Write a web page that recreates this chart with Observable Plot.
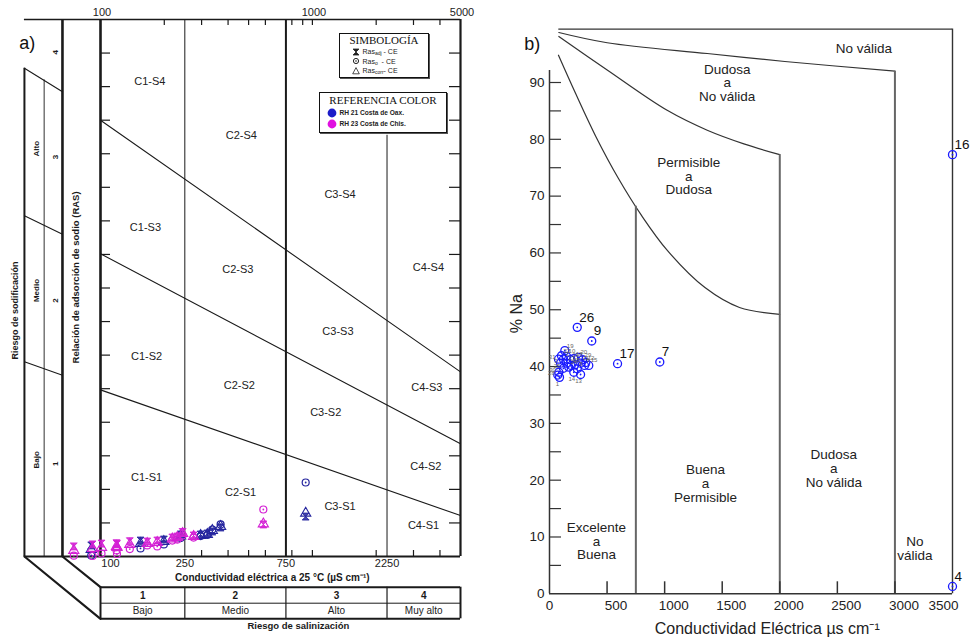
<!DOCTYPE html>
<html lang="es">
<head>
<meta charset="utf-8">
<title>Diagramas de Richards y Wilcox</title>
<script src="https://cdn.jsdelivr.net/npm/d3@7"></script>
<script src="https://cdn.jsdelivr.net/npm/@observablehq/plot@0.6"></script>
<style>
  html, body { margin: 0; padding: 0; background: #fff; }
  #wrap { position: relative; width: 972px; height: 638px; overflow: hidden; background: #fff;
          font-family: "Liberation Sans", Arial, sans-serif; }
  #panelA, #panelB { position: absolute; top: 0; }
  #panelA { left: 0; }
  #panelB { left: 490px; }
  .box { position: absolute; box-sizing: border-box; background: #fff; border: 1.5px solid #111;
         box-shadow: 1px 1px 0 #555; }
  .box .ttl { font-family: "Liberation Serif", "Times New Roman", serif; font-size: 11px; line-height: 12px;
              text-align: center; color: #111; }
  .box .row { display: flex; align-items: center; color: #222; white-space: nowrap; }
  #symbolBox .row { font-size: 7px; height: 9.5px; padding-left: 12px; }
  #symbolBox .row svg { margin-right: 2.5px; }
  #colorBox .row { font-size: 6.6px; font-weight: 600; height: 10.7px; padding-left: 6.5px; }
  #colorBox .row svg { margin-right: 3px; }
  .box .sb { font-size: 5px; position: relative; top: 1.5px; }
</style>
</head>
<body>
<div id="wrap">
  <div id="panelA"></div>
  <div id="panelB"></div>
  <div class="box" id="symbolBox" style="left:339px; top:33px; width:90px; height:45px;">
    <div class="ttl">SIMBOLOGÍA</div>
    <div class="row" style="margin-top:1px"><svg width="8" height="8" viewBox="-4 -4 8 8"><path d="M-3,-3L3,-3L-3,3L3,3Z" fill="#222" stroke="#222" stroke-width="0.8"/></svg>Ras<span class="sb">adj</span>&nbsp;- CE</div>
    <div class="row"><svg width="8" height="8" viewBox="-4 -4 8 8"><circle r="2.6" fill="none" stroke="#222" stroke-width="1"/><circle r="0.8" fill="#222"/></svg>Ras<span class="sb">o</span>&nbsp;&nbsp;- CE</div>
    <div class="row"><svg width="8" height="8" viewBox="-4 -4 8 8"><path d="M0,-3.4L3.3,2.8L-3.3,2.8Z" fill="none" stroke="#222" stroke-width="0.8"/></svg>Ras<span class="sb">corr</span>- CE</div>
  </div>
  <div class="box" id="colorBox" style="left:319px; top:92px; width:128px; height:41px;">
    <div class="ttl" style="padding-top:1px">REFERENCIA COLOR</div>
    <div class="row" style="margin-top:1.5px"><svg width="10" height="10" viewBox="-5 -5 10 10"><circle r="4.4" fill="#1c1cc8"/></svg>RH 21 Costa de Oax.</div>
    <div class="row"><svg width="10" height="10" viewBox="-5 -5 10 10"><circle r="4.4" fill="#e010e0"/></svg>RH 23 Costa de Chis.</div>
  </div>
</div>
<script>
// ---------------- Panel a: diagrama de Richards (RAS vs CE) ----------------
const salinityBounds = [100, 250, 750, 2250, 5000];
const salinityClass = ["1", "2", "3", "4"];
const salinityRisk = ["Bajo", "Medio", "Alto", "Muy alto"];

// Límites de clases de sodio (rectas en CE logarítmica)
const boundaryEC = [100, 5000];
const sarS1S2 = [9.93, 2.44];
const sarS2S3 = [18.04, 6.72];
const sarS3S4 = [26.0, 11.0];

const zoneLabel = ["C1-S4", "C2-S4", "C3-S4", "C4-S4", "C1-S3", "C2-S3", "C3-S3", "C4-S3",
                   "C1-S2", "C2-S2", "C3-S2", "C4-S2", "C1-S1", "C2-S1", "C3-S1", "C4-S1"];
const zoneEC = [171, 462, 1350, 3530, 163, 445, 1320, 3470, 165, 452, 1156, 3430, 165, 458, 1350, 3345];
const zoneSAR = [28.3, 25.1, 21.6, 17.2, 19.6, 17.1, 13.4, 10.05, 11.9, 10.2, 8.6, 5.36, 4.73, 3.83, 2.96, 1.87];

const topTickEC = [200, 300, 400, 500, 600, 800, 900, 1000, 2000, 3000, 4000];
const bottomTickEC = [300, 400, 500, 600, 800, 1000, 2000, 3000, 4000];
const topLabelEC = [100, 1000, 5000];
const bottomLabelEC = [100, 250, 750, 2250];
const sarTicks = [2, 4, 6, 8, 10, 12, 14, 16, 18, 20, 22, 24, 26, 28, 30];

// Muestras: CE (µS/cm) y tres estimaciones de RAS
const ecA     = [74.8, 90.4, 91.7, 101.1, 119.0, 119.6, 137.5, 154.5, 166.2, 185.3, 199.1,
                 218.2, 230.4, 238.8, 244.0, 275.0, 296.8, 319.2, 337.1, 368.8, 586.8, 929.6];
const rasAdj  = [0.60, 0.66, 0.72, 0.77, 0.79, 0.74, 0.91, 0.95, 0.89, 0.95, 1.01,
                 1.13, 1.19, 1.31, 1.46, 1.25, 1.31, 1.37, 1.49, 1.73, 1.91, 2.38];
const rasO    = [0.05, 0.06, 0.03, 0.18, 0.36, 0.15, 0.44, 0.48, 0.66, 0.60, 0.72,
                 0.95, 1.01, 1.10, 1.25, 1.13, 1.22, 1.28, 1.61, 1.91, 2.80, 4.41];
const rasCorr = [0.36, 0.42, 0.48, 0.54, 0.60, 0.54, 0.72, 0.77, 0.77, 0.83, 0.89,
                 1.04, 1.13, 1.22, 1.37, 1.19, 1.25, 1.31, 1.55, 1.79, 1.94, 2.58];
const basinA  = ["RH 23", "RH 21", "RH 23", "RH 23", "RH 23", "RH 23", "RH 23", "RH 21", "RH 23", "RH 23", "RH 21",
                 "RH 23", "RH 23", "RH 21", "RH 23", "RH 23", "RH 21", "RH 21", "RH 21", "RH 21", "RH 23", "RH 21"];

// ---------------- Panel b: diagrama de Wilcox (%Na vs CE) ----------------
const limNoValidaEC = [81, 501, 1370, 2044, 3000];
const limNoValidaNa = [98.8, 97.0, 95.1, 93.7, 92.0];
const limDudosaEC = [81, 501, 1022, 1370, 1688, 2000];
const limDudosaNa = [98.1, 92.2, 85.1, 81.6, 79.2, 77.3];
const limPermisibleEC = [78, 226, 400, 599, 799, 1025, 1350, 1650, 2000];
const limPermisibleNa = [94.8, 88.1, 80.6, 73.1, 66.6, 60.4, 53.9, 50.4, 49.2];
const limBuenaTopNa = 68.2;   // where the 750 µS/cm limit meets the curve

const classText = ["No válida", "Dudosa\na\nNo válida", "Permisible\na\nDudosa", "Excelente\na\nBuena",
                   "Buena\na\nPermisible", "Dudosa\na\nNo válida", "No\nválida"];
const classEC = [2730, 1543, 1210, 408, 1355, 2469, 3174];
const classNa = [96.0, 89.9, 73.5, 9.26, 19.4, 22.0, 7.9];

const wellId = [26, 9, 17, 7, 16, 4,
                19, 22, 31, 2, 10, 3, 21, 23, 18, 20, 29, 12, 15, 11, 5, 27, 24, 8, 14, 13, 30, 28, 1, 25, 6];
const wellEC = [241, 367, 591, 958, 3500, 3500,
                133, 104, 78, 121, 148, 96, 148, 182, 211, 251, 287, 315, 341, 270, 219, 189, 167, 241, 211, 270, 81, 72, 87, 121, 304];
const wellNa = [46.9, 44.5, 40.5, 40.8, 77.3, 1.3,
                42.8, 41.9, 41.3, 41.3, 41.8, 40.6, 40.6, 41.2, 41.4, 41.6, 41.2, 40.7, 40.2, 40.6, 40.3, 40.2, 39.9, 39.6, 39.0, 38.6, 39.0, 38.5, 38.1, 39.7, 40.2];
const wellsLabelled = [26, 9, 17, 7, 16, 4];

const ticksNaLabel = [0, 10, 20, 30, 40, 50, 60, 70, 80, 90];
const ticksNaMinor = [5, 10, 15, 20, 25, 30, 35, 40, 45, 50, 55, 60, 65, 70, 75, 80, 85, 90];
const ticksEC = [500, 1000, 1500, 2000, 2500, 3000];

// ======================= drawing: panel a =======================
const pxDecade = 211.7;          // pixels per decade of CE
const pxSar = (556 - 19) / 32;   // pixels per RAS unit
const ecOff = (ec, px) => ec * Math.pow(10, px / pxDecade);
const sarOff = px => px / pxSar;
const ink = "#1a1a1a";
const colOuter = ecOff(100, -76), colMid = ecOff(100, -56.3), colInner = ecOff(100, -38);

const hourglass = {
  draw(context, size) {
    const s = Math.sqrt(size) / 2;
    context.moveTo(-s, -s); context.lineTo(s, -s); context.lineTo(-s, s); context.lineTo(s, s); context.closePath();
  }
};

const samplesA = ecA.map((ec, i) => ({ec, adj: rasAdj[i], o: rasO[i], corr: rasCorr[i], basin: basinA[i]}));
const basinColor = {"RH 21": "#24249e", "RH 23": "#d420d4"};
const pointMarks = [];
for (const basin of ["RH 21", "RH 23"]) {
  const pts = samplesA.filter(d => d.basin === basin);
  const c = basinColor[basin];
  pointMarks.push(
    Plot.dot(pts, {x: "ec", y: "o", r: 3.5, stroke: c, strokeWidth: 1.2, fill: "none"}),
    Plot.dot(pts, {x: "ec", y: "o", r: 0.9, fill: c}),
    Plot.dot(pts, {x: "ec", y: "corr", symbol: "triangle", r: 3.8, stroke: c, strokeWidth: 1.1, fill: "none"}),
    Plot.dot(pts, {x: "ec", y: "adj", symbol: hourglass, r: 3.9, stroke: c, strokeWidth: 0.9, fill: c, fillOpacity: 0.85})
  );
}

const zones = zoneLabel.map((label, i) => ({label, ec: zoneEC[i], sar: zoneSAR[i]}));
const sodicLines = [[[colOuter, 29.1], [colInner, 27.7]], [[colOuter, 20.3], [colInner, 19.2]], [[colOuter, 11.6], [colInner, 10.8]]];
const tableTop = -sarOff(30.7), tableMid = -sarOff(46.7), tableBottom = -sarOff(62.3);
const classCenters = salinityClass.map((c, i) => Math.sqrt(salinityBounds[i] * salinityBounds[i + 1]));

const chartA = Plot.plot({
  width: 490, height: 638,
  marginTop: 0, marginRight: 0, marginBottom: 0, marginLeft: 0,
  style: {fontFamily: "Liberation Sans, Arial, sans-serif", overflow: "visible", background: "transparent"},
  x: {type: "log", domain: [100, 5000], range: [100, 460], axis: null},
  y: {domain: [0, 32], range: [556, 19], axis: null},
  marks: [
    // class boundaries
    Plot.line(boundaryEC.map((ec, i) => ({ec, sar: sarS1S2[i]})), {x: "ec", y: "sar", stroke: ink, strokeWidth: 1.1}),
    Plot.line(boundaryEC.map((ec, i) => ({ec, sar: sarS2S3[i]})), {x: "ec", y: "sar", stroke: ink, strokeWidth: 1.1}),
    Plot.line(boundaryEC.map((ec, i) => ({ec, sar: sarS3S4[i]})), {x: "ec", y: "sar", stroke: ink, strokeWidth: 1.1}),
    Plot.ruleX([250], {y1: 0, y2: 32, stroke: ink, strokeWidth: 1}),
    Plot.ruleX([2250], {y1: 0, y2: 25.1, stroke: ink, strokeWidth: 1}),
    Plot.ruleX([750], {y1: 0, y2: 32, stroke: ink, strokeWidth: 2}),
    // frame
    Plot.ruleX([100], {y1: 0, y2: 32, stroke: ink, strokeWidth: 2.6}),
    Plot.ruleX([5000], {y1: 0, y2: 32, stroke: ink, strokeWidth: 2.2}),
    Plot.ruleY([32], {x1: colOuter, x2: 5000, stroke: ink, strokeWidth: 1.6}),
    Plot.ruleY([0], {x1: colOuter, x2: 5000, stroke: ink, strokeWidth: 2.2}),
    // ticks
    Plot.ruleX(topTickEC, {x: d => d, y1: 32, y2: 32 - sarOff(6), stroke: ink, strokeWidth: 1.2}),
    Plot.ruleX(bottomTickEC, {x: d => d, y1: 0, y2: sarOff(6), stroke: ink, strokeWidth: 1.2}),
    Plot.ruleY(sarTicks, {y: d => d, x1: 5000, x2: ecOff(5000, -11), stroke: ink, strokeWidth: 1.2}),
    Plot.ruleY(sarTicks, {y: d => d, x1: 100, x2: ecOff(100, 10), stroke: ink, strokeWidth: 1.2}),
    // sodium hazard columns
    Plot.ruleX([colInner], {y1: 0, y2: 32, stroke: ink, strokeWidth: 2.6}),
    Plot.ruleX([colOuter], {y1: 0, y2: 29.1, stroke: ink, strokeWidth: 2}),
    Plot.ruleX([colMid], {y1: 0, y2: 28.4, stroke: ink, strokeWidth: 0.9}),
    ...sodicLines.map(seg => Plot.line(seg, {x: d => d[0], y: d => d[1], stroke: ink, strokeWidth: 1.1})),
    // perspective edges towards the salinity table
    Plot.line([[colOuter, 0], [100, tableBottom]], {x: d => d[0], y: d => d[1], stroke: ink, strokeWidth: 2.2}),
    Plot.line([[colInner, 0], [100, tableTop]], {x: d => d[0], y: d => d[1], stroke: ink, strokeWidth: 2.2}),
    // salinity hazard table
    Plot.ruleY([tableTop, tableBottom], {x1: 100, x2: 5000, stroke: ink, strokeWidth: 2}),
    Plot.ruleY([tableMid], {x1: 100, x2: 5000, stroke: ink, strokeWidth: 1}),
    Plot.ruleX(salinityBounds, {x: d => d, y1: tableTop, y2: tableBottom, stroke: ink, strokeWidth: d => (d === 100 || d === 5000) ? 2 : 1.2}),
    Plot.text(salinityClass, {x: (d, i) => classCenters[i], y: -sarOff(39), text: d => d, fontSize: 10, fontWeight: "bold", fill: ink}),
    Plot.text(salinityRisk, {x: (d, i) => classCenters[i], y: -sarOff(54.7), text: d => d, fontSize: 10, fill: "#222"}),
    Plot.text(["Riesgo de salinización"], {x: ecOff(100, 197.7), y: -sarOff(69), text: d => d, fontSize: 9.5, fontWeight: "bold", fill: ink}),
    Plot.text(["Conductividad eléctrica a 25 °C (µS cm⁻¹)"], {x: ecOff(100, 171.7), y: -sarOff(21.3), text: d => d, fontSize: 10, fontWeight: "bold", fill: ink}),
    // axis labels
    Plot.text(bottomLabelEC.filter(d => d !== 100), {x: d => d, y: -sarOff(6.7), text: d => String(d), fontSize: 11, fill: "#222"}),
    Plot.text([100], {x: d => d, y: -sarOff(6.7), dx: 10, text: d => String(d), fontSize: 11, fill: "#222"}),
    Plot.text(topLabelEC, {x: d => d, y: 32 + sarOff(7), dx: 1.5, text: d => String(d), fontSize: 11, fill: "#222"}),
    // rotated titles of the sodium columns
    Plot.text(["Relación de adsorción de sodio (RAS)"], {x: ecOff(100, -25), y: 16.63, text: d => d, rotate: -90, fontSize: 9.5, fontWeight: "bold", fill: ink}),
    Plot.text(["Riesgo de sodificación"], {x: ecOff(100, -85), y: 14.66, text: d => d, rotate: -90, fontSize: 9, fontWeight: "bold", fill: ink}),
    Plot.text(["Alto", "Medio", "Bajo"], {x: ecOff(100, -64.5), y: (d, i) => [24.3, 15.85, 5.76][i], text: d => d, rotate: -90, fontSize: 8, fontWeight: "bold", fill: ink}),
    Plot.text(["4", "3", "2", "1"], {x: ecOff(100, -45.5), y: (d, i) => [30.05, 23.8, 15.26, 5.52][i], text: d => d, rotate: -90, fontSize: 8, fontWeight: "bold", fill: ink}),
    // class labels
    Plot.text(zones, {x: "ec", y: "sar", text: "label", fontSize: 11, fill: "#222"}),
    Plot.text(["a)"], {x: ecOff(100, -73.3), y: 30.6, text: d => d, fontSize: 18, fill: "#111"}),
    ...pointMarks
  ]
});
document.getElementById("panelA").appendChild(chartA);

// ======================= drawing: panel b =======================
const xRangeB = [59, 462];      // pixel span of 0–3500 µS/cm
const yRangeB = [593.3, 82];    // pixel span of 0–90 %Na
const ecPerPx = 3500 / (xRangeB[1] - xRangeB[0]);
const naPerPx = 90 / (yRangeB[0] - yRangeB[1]);
const lineInk = "#333";
const wells = wellId.map((id, i) => ({id, ec: wellEC[i], na: wellNa[i]}));
const bigWells = wells.filter(d => wellsLabelled.includes(d.id));
const smallWells = wells.filter(d => !wellsLabelled.includes(d.id));
const belowIds = [1, 13, 14];
const leftIds = [31, 3, 28, 30, 25];
const classes = classText.map((text, i) => ({text, ec: classEC[i], na: classNa[i]}));
const toPts = (xs, ys) => xs.map((x, i) => ({x, y: ys[i]}));

const chartB = Plot.plot({
  width: 482, height: 638,
  marginTop: 0, marginRight: 0, marginBottom: 0, marginLeft: 0,
  style: {fontFamily: "Liberation Sans, Arial, sans-serif", overflow: "visible", background: "transparent"},
  x: {type: "linear", domain: [0, 3500], range: xRangeB, axis: null},
  y: {type: "linear", domain: [0, 90], range: yRangeB, axis: null},
  marks: [
    // outer frame
    Plot.ruleY([99.4], {x1: 81, x2: 3500, stroke: lineInk, strokeWidth: 1.2}),
    Plot.ruleX([3500], {y1: 0, y2: 99.4, stroke: lineInk, strokeWidth: 1.4}),
    // class limits
    Plot.line(toPts(limNoValidaEC, limNoValidaNa), {x: "x", y: "y", stroke: lineInk, strokeWidth: 1.2, curve: "catmull-rom"}),
    Plot.line(toPts(limDudosaEC, limDudosaNa), {x: "x", y: "y", stroke: lineInk, strokeWidth: 1.2, curve: "catmull-rom"}),
    Plot.line(toPts(limPermisibleEC, limPermisibleNa), {x: "x", y: "y", stroke: lineInk, strokeWidth: 1.2, curve: "catmull-rom"}),
    Plot.ruleX([750], {y1: 0, y2: limBuenaTopNa, stroke: "#666", strokeWidth: 2}),
    Plot.ruleX([2000], {y1: 0, y2: 77.3, stroke: "#666", strokeWidth: 2}),
    Plot.ruleX([3000], {y1: 0, y2: 92.0, stroke: "#666", strokeWidth: 2}),
    // axes
    Plot.ruleX([0], {y1: 0, y2: 92.1, stroke: lineInk, strokeWidth: 1.5}),
    Plot.ruleY([0], {x1: 0, x2: 3500, stroke: lineInk, strokeWidth: 1.5}),
    Plot.ruleY(ticksNaMinor, {y: d => d, x1: 0, x2: 12 * ecPerPx, stroke: lineInk, strokeWidth: 1.2}),
    Plot.ruleX(ticksEC, {x: d => d, y1: 0, y2: 12 * naPerPx, stroke: lineInk, strokeWidth: 1.5}),
    Plot.text(ticksNaLabel, {x: 0, y: d => d, dx: -5, textAnchor: "end", text: d => String(d), fontSize: 13.5, fill: "#222"}),
    Plot.text([0], {x: d => d, y: 0, dy: 12, text: d => String(d), fontSize: 13.5, fill: "#222"}),
    Plot.text(ticksEC, {x: d => d, y: 0, dy: 12, dx: 9, text: d => String(d), fontSize: 13.5, fill: "#222"}),
    Plot.text([3500], {x: d => d, y: 0, dy: 12, dx: 6, textAnchor: "end", text: d => String(d), fontSize: 13.5, fill: "#222"}),
    Plot.text(["Conductividad Eléctrica µs cm⁻¹"], {x: 1891, y: -6.1, text: d => d, fontSize: 16, fill: "#222"}),
    Plot.text(["% Na"], {x: -32.3 * ecPerPx, y: 49.3, text: d => d, rotate: -90, fontSize: 16, fill: "#222"}),
    Plot.text(["b)"], {x: -17.3 * ecPerPx, y: 96.8, text: d => d, fontSize: 18, fill: "#111"}),
    // class names
    Plot.text(classes, {x: "ec", y: "na", text: "text", fontSize: 13.5, lineHeight: 1.02, fill: "#222"}),
    // wells
    Plot.dot(wells, {x: "ec", y: "na", r: 4, stroke: "#1a1aff", strokeWidth: 1.3, fill: "none"}),
    Plot.dot(wells, {x: "ec", y: "na", r: 0.9, fill: "#1a1aff"}),
    Plot.text(bigWells, {x: "ec", y: "na", text: d => String(d.id), textAnchor: "start", dx: 2, dy: -10, fontSize: 13.5, fill: "#111"}),
    Plot.text(smallWells.filter(d => !belowIds.includes(d.id) && !leftIds.includes(d.id)),
      {x: "ec", y: "na", text: d => String(d.id), textAnchor: "start", dx: 2, dy: -5, fontSize: 6, fill: "#666"}),
    Plot.text(smallWells.filter(d => belowIds.includes(d.id)),
      {x: "ec", y: "na", text: d => String(d.id), dy: 7, dx: -2, fontSize: 6, fill: "#666"}),
    Plot.text(smallWells.filter(d => leftIds.includes(d.id)),
      {x: "ec", y: "na", text: d => String(d.id), textAnchor: "end", dx: -3, dy: -2, fontSize: 6, fill: "#666"})
  ]
});
document.getElementById("panelB").appendChild(chartB);
</script>
</body>
</html>
